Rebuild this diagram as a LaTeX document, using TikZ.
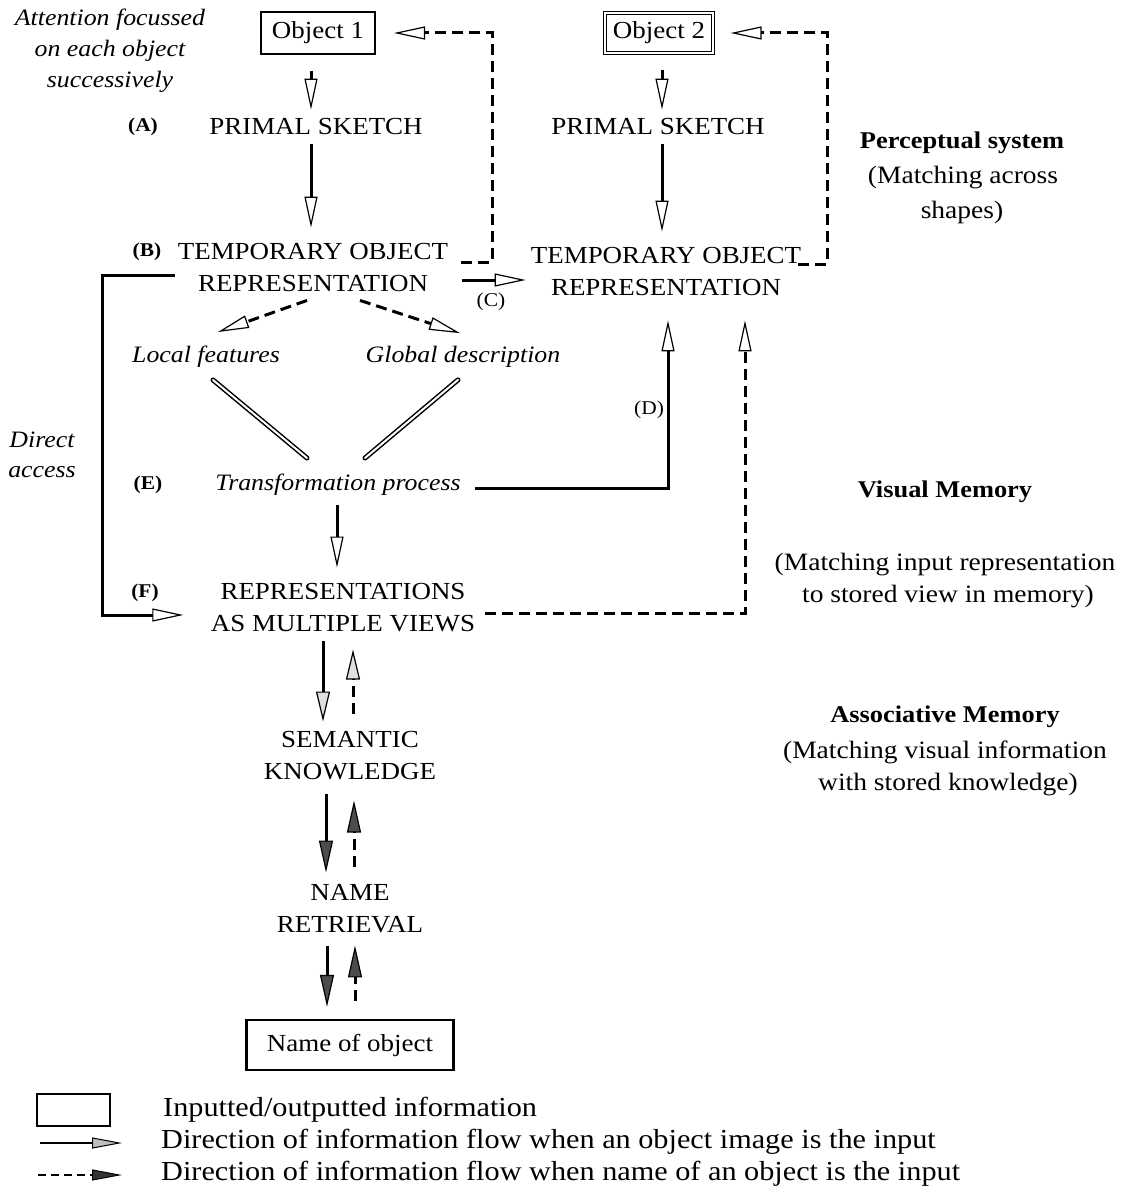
\documentclass[tikz,border=0pt]{standalone}
\usepackage{fontspec}
\setmainfont{Liberation Serif}[FakeStretch=1.1]
\usetikzlibrary{arrows.meta,calc}

\tikzset{
  lbl/.style={inner sep=0pt, align=center},
  caps/.style={lbl, font=\fontsize{24.5}{32}\selectfont},
  ital/.style={lbl, font=\fontsize{23.5}{30}\selectfont\itshape},
  tag/.style={lbl, font=\fontsize{19.5}{20}\selectfont\bfseries},
  tagr/.style={lbl, font=\fontsize{19.5}{20}\selectfont},
  sidehead/.style={lbl, font=\fontsize{24}{30}\selectfont\bfseries},
  side/.style={lbl, font=\fontsize{25}{30}\selectfont},
  legtext/.style={inner sep=0pt, anchor=west, font=\fontsize{27.5}{30}\selectfont},
  iobox/.style={draw, line width=2pt, inner sep=0pt, font=\fontsize{24.5}{30}\selectfont},
  flow/.style={line width=3pt,
    -{Triangle[length=31pt,width=13pt,fill=white,line width=1.2pt]}},
  dflow/.style={flow, dash pattern=on 11pt off 6pt},
  flowgrey/.style={line width=3pt,
    -{Triangle[length=30pt,width=14pt,fill=gray!25,line width=1.2pt]}},
  dflowgrey/.style={flowgrey, dash pattern=on 11pt off 6pt},
  flowdark/.style={line width=3pt,
    -{Triangle[length=32pt,width=14pt,fill=black!70,line width=1.2pt]}},
  dflowdark/.style={flowdark, dash pattern=on 11pt off 6pt},
  twin/.style={double, line width=1.5pt, double distance=2pt, line cap=round},
  legsolid/.style={line width=2.4pt,
    -{Triangle[length=30pt,width=11pt,fill=gray!50,line width=1pt]}},
  legdash/.style={line width=2.4pt, dash pattern=on 8pt off 5pt,
    -{Triangle[length=30pt,width=11pt,fill=black!80,line width=1pt]}}
}

\begin{document}
\begin{tikzpicture}[x=1pt,y=-1pt]
\useasboundingbox (0,0) rectangle (1138,1204);
\fill[white] (0,0) rectangle (1138,1204);

% --- perceptual system: two objects in parallel ---
\node[ital, font=\fontsize{23.5}{31}\selectfont\itshape] (attn) at (110,51)
  {Attention focussed\\on each object\\successively};

\node[iobox, minimum width=114pt, minimum height=42pt] (obj1) at (318,33) {Object 1};
\node[iobox, double, double distance=1.2pt, line width=1.2pt,
      minimum width=108pt, minimum height=40pt] (obj2) at (659,33) {Object 2};

\node[caps] (ps1) at (316,127) {PRIMAL SKETCH};
\node[caps] (ps2) at (658,127) {PRIMAL SKETCH};
\node[caps] (tor1) at (313,268) {TEMPORARY OBJECT\\REPRESENTATION};
\node[caps] (tor2) at (666,272) {TEMPORARY OBJECT\\REPRESENTATION};

\node[tag] (la) at (143,127) {(A)};
\node[tag] (lb) at (147,252) {(B)};
\node[tagr] (lc) at (491,302) {(C)};

% --- visual memory ---
\node[ital] (loc) at (206,357) {Local features};
\node[ital] (glob) at (463,357) {Global description};
\node[ital] (trans) at (338,485) {Transformation process};
\node[caps] (rmv) at (343,608) {REPRESENTATIONS\\AS MULTIPLE VIEWS};

\node[tagr] (ld) at (649,410) {(D)};
\node[tag] (le) at (148,485) {(E)};
\node[tag] (lf) at (145,593) {(F)};
\node[ital] (direct) at (42,455) {Direct\\access};

% --- associative memory ---
\node[caps] (sem) at (350,756) {SEMANTIC\\KNOWLEDGE};
\node[caps] (nr) at (350,909) {NAME\\RETRIEVAL};
\node[iobox, line width=2.4pt, minimum width=207pt, minimum height=50pt] (noo)
  at (350,1045) {Name of object};

% --- stage descriptions on the right ---
\node[sidehead] (perc1) at (962,143) {Perceptual system};
\node[side] (perc2) at (963,178) {(Matching across};
\node[side] (perc3) at (962,212) {shapes)};
\node[sidehead] (vis1) at (945,492) {Visual Memory};
\node[side] (vis2) at (945,565) {(Matching input representation};
\node[side] (vis3) at (948,597) {to stored view in memory)};
\node[sidehead] (ass1) at (945,717) {Associative Memory};
\node[side] (ass2) at (945,752) {(Matching visual information};
\node[side] (ass3) at (948,785) {with stored knowledge)};

% --- connectors ---
\draw[flow] ($(obj1.south)+(-7,16)$) -- ($(ps1.north)+(-5,-9)$);
\draw[flow] ($(ps1.south)+(-5,9)$) -- ($(tor1.north)+(-2,-16)$);
\draw[flow] ($(obj2.south)+(3,16)$) -- ($(ps2.north)+(4,-9)$);
\draw[flow] ($(ps2.south)+(4,9)$) -- ($(tor2.north)+(-4,-16)$);

\draw[dflow] ($(tor1.east)+(13,-6)$) -- ++(31,0) |- ($(obj1.east)+(18,0)$);
\draw[dflow] ($(tor2.east)+(-3,-8)$) -- ++(29,0) |- ($(obj2.east)+(17,0)$);
\draw[flow] ($(tor1.east)+(14,12)$) -- ($(tor2.west)+(-5,8)$);

\draw[dflow] ($(tor1.south)+(-6,8)$) -- ($(loc.north)+(12,-14)$);
\draw[dflow] ($(tor1.south)+(47,8)$) -- ($(glob.north)+(-3,-13)$);
\draw[twin] ($(loc.south)+(7,12)$) -- ($(trans.north)+(-31,-16)$);
\draw[twin] ($(glob.south)+(-5,12)$) -- ($(trans.north)+(27,-16)$);

\draw[flow] ($(trans.east)+(14,3)$) -| ($(tor2.south)+(2,24)$);
\draw[dflow] ($(rmv.east)+(10,5)$) -| ($(tor2.south)+(79,24)$);
\draw[flow] ($(trans.south)+(-1,9)$) -- ($(rmv.north)+(-6,-16)$);
\draw[flow] ($(tor1.west)+(-3,7)$) -- ++(-72,0) |- ($(rmv.west)+(-27.5,7)$);

\draw[flowgrey] ($(rmv.south)+(-20,8)$) -- ($(sem.north)+(-27,-10)$);
\draw[dflowgrey] ($(sem.north)+(3,-18)$) -- ($(rmv.south)+(10,17)$);
\draw[flowdark] ($(sem.south)+(-24,13)$) -- ($(nr.north)+(-24,-12)$);
\draw[dflowdark] ($(nr.north)+(4,-18)$) -- ($(sem.south)+(4,20)$);
\draw[flowdark] ($(nr.south)+(-23,13)$) -- ($(noo.north)+(-23,-12)$);
\draw[dflowdark] ($(noo.north)+(5,-18)$) -- ($(nr.south)+(5,12)$);

% --- legend ---
\node[draw, line width=2.4pt, minimum width=73pt, minimum height=32pt, inner sep=0pt]
  (legbox) at (73.5,1110) {};
\node[legtext] (lt1) at (163,1110) {Inputted/outputted information};
\node[legtext] (lt2) at (161,1142) {Direction of information flow when an object image is the input};
\node[legtext] (lt3) at (161,1174) {Direction of information flow when name of an object is the input};
\coordinate (la1) at (40,1143);
\coordinate (la2) at (122,1143);
\coordinate (lb1) at (38,1175);
\coordinate (lb2) at (122,1175);
\draw[legsolid] (la1) -- (la2);
\draw[legdash] (lb1) -- (lb2);
\end{tikzpicture}
\end{document}
